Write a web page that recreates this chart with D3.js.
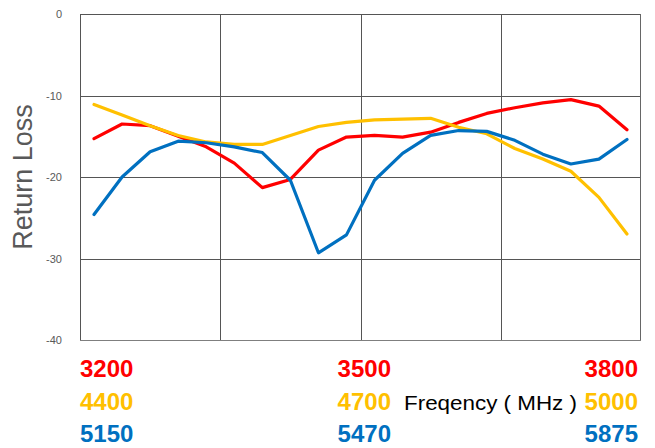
<!DOCTYPE html>
<html>
<head>
<meta charset="utf-8">
<script src="https://cdn.jsdelivr.net/npm/d3@7"></script>
<style>
  html, body { margin: 0; padding: 0; background: #ffffff; }
  svg { display: block; }
</style>
</head>
<body>
<svg id="chart" width="655" height="448"></svg>
<script>
// ---- Data ----
const categories = d3.range(1, 21);           // 20 frequency steps per band
const seriesNames = ["3200-3800 MHz", "4400-5000 MHz", "5150-5875 MHz"];
const redValues = [-15.3, -13.5, -13.7, -15.0, -16.3, -18.3, -21.3, -20.3, -16.7, -15.1,
                   -14.9, -15.1, -14.5, -13.3, -12.2, -11.5, -10.9, -10.5, -11.3, -14.2];
const yellowValues = [-11.1, -12.4, -13.7, -14.9, -15.7, -16.0, -16.0, -14.9, -13.8, -13.3,
                      -13.0, -12.9, -12.8, -13.9, -14.7, -16.5, -17.8, -19.3, -22.5, -27.0];
const blueValues = [-24.6, -20.0, -16.9, -15.6, -15.8, -16.3, -17.0, -20.4, -29.3, -27.1,
                    -20.4, -17.1, -14.9, -14.3, -14.4, -15.5, -17.2, -18.4, -17.8, -15.4];
const yTicks = [0, -10, -20, -30, -40];
const redLabels = ["3200", "3500", "3800"];
const yellowLabels = ["4400", "4700", "5000"];
const blueLabels = ["5150", "5470", "5875"];
const yTitle = "Return Loss";
const xTitle = "Freqency ( MHz )";

const colors = { red: "#FF0000", yellow: "#FFC000", blue: "#0070C0" };

// ---- Layout ----
const plot = { left: 80, right: 641, top: 14, bottom: 340 };
const svg = d3.select("#chart");

const x = d3.scaleBand().domain(categories).range([plot.left, plot.right]).paddingInner(0).paddingOuter(0);
const y = d3.scaleLinear().domain([-40, 0]).range([plot.bottom, plot.top]);
const bw = x.bandwidth();
const cx = d => x(d) + bw / 2;

// gridlines
const grid = svg.append("g").attr("stroke", "#555555").attr("stroke-width", 1.2).attr("shape-rendering", "crispEdges");
yTicks.forEach(t => {
  grid.append("line").attr("x1", plot.left).attr("x2", plot.right)
    .attr("y1", Math.round(y(t)) + 0.5).attr("y2", Math.round(y(t)) + 0.5)
    .attr("stroke", t === -40 ? "#7f7f7f" : "#555555");
});
const vBounds = [categories[0], categories[5], categories[10], categories[15]];
vBounds.forEach(c => {
  grid.append("line").attr("x1", Math.round(x(c)) + 0.5).attr("x2", Math.round(x(c)) + 0.5)
    .attr("y1", plot.top).attr("y2", plot.bottom);
});
grid.append("line").attr("x1", plot.right - 0.5).attr("x2", plot.right - 0.5)
  .attr("y1", plot.top).attr("y2", plot.bottom).attr("stroke", "#666666");

// y axis labels
const yAxis = d3.axisLeft(y).tickValues(yTicks).tickSize(0).tickPadding(0).tickFormat(d => String(d));
const ya = svg.append("g").attr("transform", `translate(${plot.left - 18},0)`).call(yAxis);
ya.select(".domain").remove();
ya.selectAll("text").attr("font-family", "Liberation Sans, Arial, sans-serif")
  .attr("font-size", 11).attr("fill", "#595959");

// y title
svg.append("text")
  .attr("transform", `translate(32,${(plot.top + plot.bottom) / 2}) rotate(-90)`)
  .attr("text-anchor", "middle")
  .attr("font-family", "Liberation Sans, Arial, sans-serif")
  .attr("font-size", 27).attr("fill", "#595959")
  .text(yTitle);

// lines
const line = d3.line().x((d, i) => cx(categories[i])).y(d => y(d));
[[redValues, colors.red], [yellowValues, colors.yellow], [blueValues, colors.blue]].forEach(([vals, col]) => {
  svg.append("path").datum(vals)
    .attr("d", line)
    .attr("fill", "none")
    .attr("stroke", col)
    .attr("stroke-width", 3.2)
    .attr("stroke-linejoin", "round")
    .attr("stroke-linecap", "round");
});

// bottom frequency labels
const rows = [[redLabels, colors.red, 377], [yellowLabels, colors.yellow, 410], [blueLabels, colors.blue, 442]];
const labelX = [plot.left, 391, 638];
const anchors = ["start", "end", "end"];
rows.forEach(([labels, col, base]) => {
  labels.forEach((t, i) => {
    svg.append("text")
      .attr("x", labelX[i]).attr("y", base)
      .attr("text-anchor", anchors[i])
      .attr("font-family", "Liberation Sans, Arial, sans-serif")
      .attr("font-weight", "bold").attr("font-size", 24)
      .attr("fill", col)
      .text(t);
  });
});

svg.append("text")
  .attr("x", 404).attr("y", 410)
  .attr("font-family", "Liberation Sans, Arial, sans-serif")
  .attr("font-size", 20).attr("fill", "#000000")
  .attr("textLength", 173).attr("lengthAdjust", "spacingAndGlyphs")
  .text(xTitle);
</script>
</body>
</html>
